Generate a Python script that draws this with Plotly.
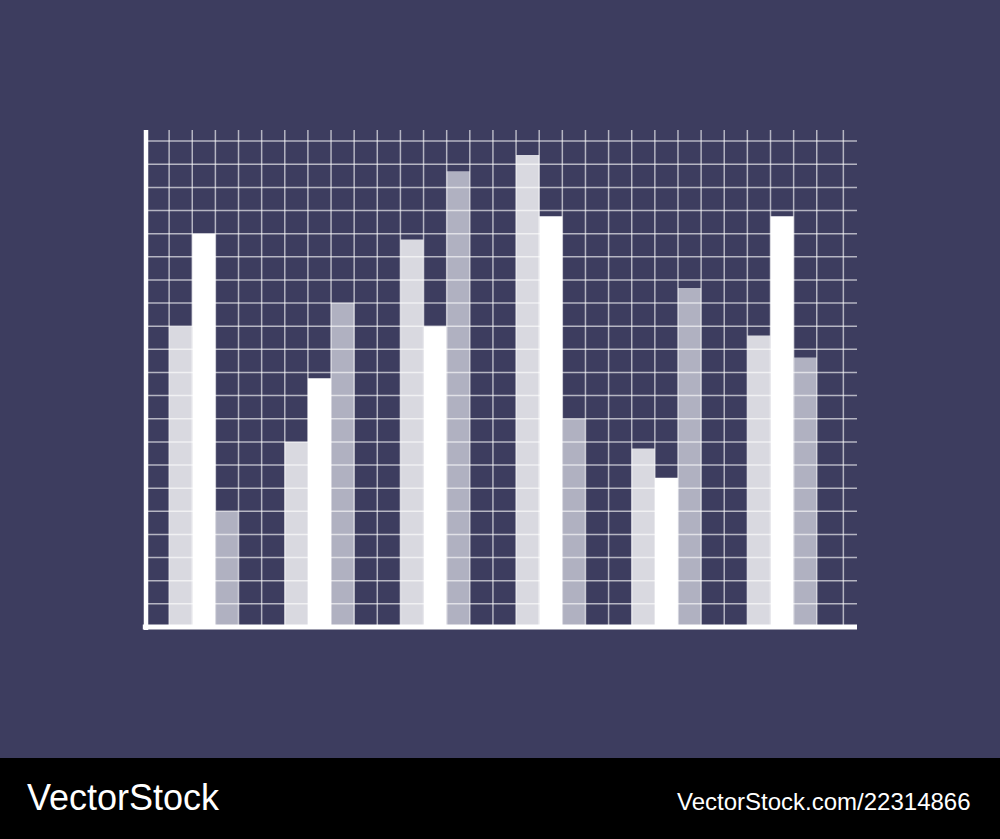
import plotly.graph_objects as go

# ---- data (in grid-cell units) ----
groups = ["G1", "G2", "G3", "G4", "G5", "G6"]
light_vals = [13.0, 8.0, 16.75, 20.4, 7.72, 12.6]
white_vals = [17.0, 10.75, 13.0, 17.75, 6.45, 17.75]
gray_vals = [5.0, 14.0, 19.7, 9.0, 14.65, 11.65]
x_grid_ticks = list(range(1, 30)) + [30.15]
y_grid_ticks = list(range(1, 22))

BG = "#3d3d5f"
group_x = [2.5 + 5 * i for i in range(len(groups))]

fig = go.Figure()
for vals, color, off in [(light_vals, "#d9d9e0", -1.5),
                         (white_vals, "#ffffff", -0.5),
                         (gray_vals, "#b0b1c1", 0.5)]:
    fig.add_trace(go.Bar(x=group_x, y=vals, width=1, offset=off,
                         marker=dict(color=color, line=dict(width=0)),
                         hoverinfo="skip", showlegend=False))

X_MAX = 30.74
Y_MAX = 21.48
shapes = []
grid_col = "rgba(255,255,255,0.62)"
for xv in x_grid_ticks:
    shapes.append(dict(type="line", xref="x", yref="paper", x0=xv, x1=xv, y0=0, y1=1,
                       line=dict(color=grid_col, width=1.5), layer="above"))
for yv in y_grid_ticks:
    shapes.append(dict(type="line", xref="paper", yref="y", x0=0, x1=1, y0=yv, y1=yv,
                       line=dict(color=grid_col, width=1.5), layer="above"))
# axes
shapes.append(dict(type="line", xref="paper", yref="paper", x0=0, x1=0, y0=-0.006, y1=1,
                   line=dict(color="white", width=4.5), layer="above"))
shapes.append(dict(type="line", xref="paper", yref="paper", x0=-0.0045, x1=1, y0=0, y1=0,
                   line=dict(color="white", width=5), layer="above"))
# bottom black band
shapes.append(dict(type="rect", xref="paper", yref="paper", x0=-0.3, x1=1.3,
                   y0=-0.5, y1=(627 - 758) / 497, fillcolor="black",
                   line=dict(width=0), layer="above"))

annotations = [
    dict(text="VectorStock", xref="paper", yref="paper",
         x=(25 - 146) / 711, y=(627 - 797) / 497, xanchor="left", yanchor="middle",
         showarrow=False, font=dict(family="Liberation Sans, Arial", size=36, color="white")),
    dict(text="VectorStock.com/22314866", xref="paper", yref="paper",
         x=(973 - 146) / 711, y=(627 - 801.5) / 497, xanchor="right", yanchor="middle",
         showarrow=False, font=dict(family="Liberation Sans, Arial", size=24, color="white")),
]

fig.update_layout(
    width=1000, height=839,
    paper_bgcolor=BG, plot_bgcolor=BG,
    margin=dict(l=146, r=143, t=130, b=212, autoexpand=False),
    barmode="overlay",
    xaxis=dict(range=[0, X_MAX], visible=False, fixedrange=True),
    yaxis=dict(range=[0, Y_MAX], visible=False, fixedrange=True),
    shapes=shapes, annotations=annotations,
    showlegend=False,
)
fig.write_html("out.html", config={"displayModeBar": False},
               post_script="document.body.style.margin='0';document.body.style.overflow='hidden';")
